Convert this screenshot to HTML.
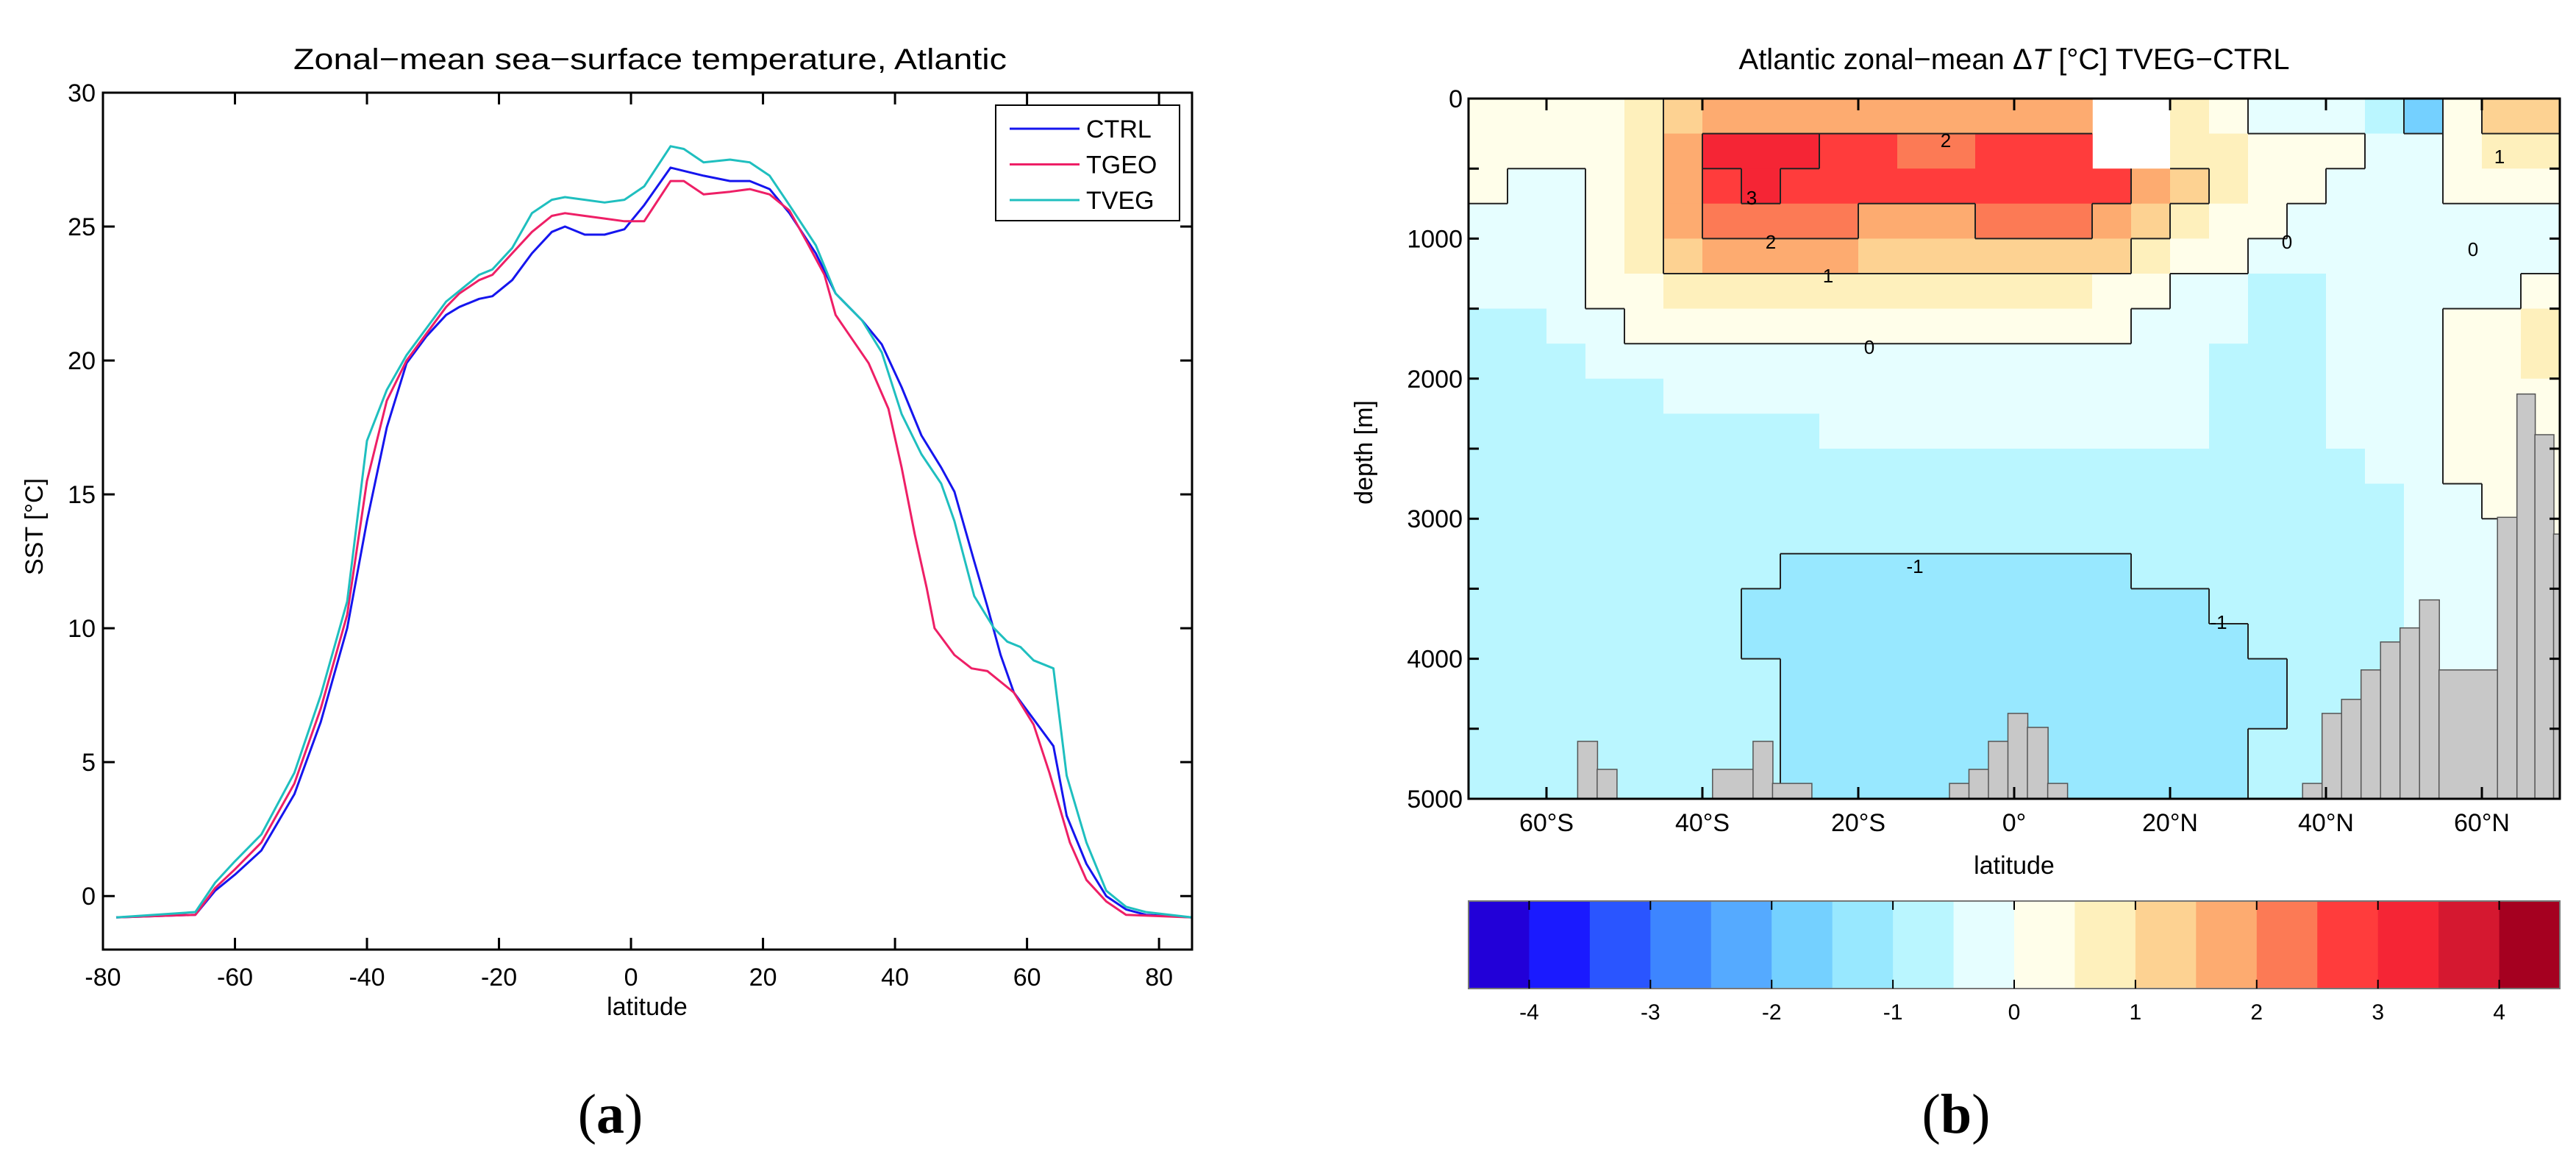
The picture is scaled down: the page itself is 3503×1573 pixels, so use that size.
<!DOCTYPE html>
<html><head><meta charset="utf-8"><style>
html,body{margin:0;padding:0;background:#fff;}
svg{display:block;font-family:"Liberation Sans",Arial,sans-serif;}
</style></head><body>
<svg id="fig" width="3503" height="1573" viewBox="0 0 3503 1573" xmlns="http://www.w3.org/2000/svg">
<rect x="0" y="0" width="3503" height="1573" fill="#fff"/>
<g id="panelA"></g>
<g id="panelB"></g>
</svg>
<script>
// ---------- Panel (a) data ----------
const ctrlLat = [-78,-66,-63,-60,-56,-51,-47,-43,-40,-37,-34,-31,-28,-26,-23,-21,-18,-15,-12,-10,-7,-4,-1,2,6,11,15,18,21,24,28,31,35,38,41,44,47,49,52,54,56,58,61,64,66,69,72,75,78,85];
const ctrlSST = [-0.8,-0.7,0.2,0.8,1.7,3.8,6.5,10,14,17.5,19.9,20.9,21.7,22.0,22.3,22.4,23.0,24.0,24.8,25.0,24.7,24.7,24.9,25.8,27.2,26.9,26.7,26.7,26.4,25.5,24.0,22.5,21.5,20.6,19.0,17.2,16.0,15.1,12.5,10.8,9.0,7.6,6.6,5.6,3.0,1.2,0.0,-0.5,-0.7,-0.8];
const tgeoLat = [-78,-66,-63,-60,-56,-51,-47,-43,-40,-37,-34,-31,-28,-26,-23,-21,-18,-15,-12,-10,-7,-4,-1,2,6,8,11,15,18,21,24,26.7,29.3,31,36,39,41,43,44.8,46,49,51.6,54,58,61,63.4,66.5,69,72,75,85];
const tgeoSST = [-0.8,-0.7,0.3,1.0,2.0,4.2,7.0,10.5,15.5,18.5,20.0,21.0,22.0,22.5,23.0,23.2,24.0,24.8,25.4,25.5,25.4,25.3,25.2,25.2,26.7,26.7,26.2,26.3,26.4,26.2,25.6,24.4,23.2,21.7,19.9,18.2,16.0,13.5,11.5,10.0,9.0,8.5,8.4,7.6,6.4,4.6,2.0,0.6,-0.2,-0.7,-0.8];
const tvegLat = [-78,-66,-63,-60,-56,-51,-47,-43,-40,-37,-34,-31,-28,-26,-23,-21,-18,-15,-12,-10,-7,-4,-1,2,6,8,11,15,18,21,24,28,31,35,38,41,44,47,49,52,55,57,59,61,64,66,69,72,75,78,85];
const tvegSST = [-0.8,-0.6,0.5,1.3,2.3,4.6,7.5,11,17.0,18.9,20.2,21.2,22.2,22.6,23.2,23.4,24.2,25.5,26.0,26.1,26.0,25.9,26.0,26.5,28.0,27.9,27.4,27.5,27.4,26.9,25.8,24.3,22.5,21.5,20.3,18.0,16.5,15.4,14.0,11.2,10.0,9.5,9.3,8.8,8.5,4.5,2.0,0.2,-0.4,-0.6,-0.8];
const aXTicks = [-80,-60,-40,-20,0,20,40,60,80];
const aYTicks = [0,5,10,15,20,25,30];
const seriesNames = ["CTRL","TGEO","TVEG"];

// ---------- Panel (b) data ----------
// columns: lat centers -67.5..67.5 step 5; each column = 20 depth rows (125..4875 step 250)
const colLats = [-67.5,-62.5,-57.5,-52.5,-47.5,-42.5,-37.5,-32.5,-27.5,-22.5,-17.5,-12.5,-7.5,-2.5,2.5,7.5,12.5,17.5,22.5,27.5,32.5,37.5,42.5,47.5,52.5,57.5,62.5,67.5];
const rowDepths = [125,375,625,875,1125,1375,1625,1875,2125,2375,2625,2875,3125,3375,3625,3875,4125,4375,4625,4875];
const dTcols = [
[0.2,0.2,0.2,-0.2,-0.2,-0.2,-0.7,-0.7,-0.7,-0.7,-0.7,-0.7,-0.7,-0.7,-0.7,-0.7,-0.7,-0.7,-0.7,-0.7],
[0.2,0.2,-0.2,-0.2,-0.2,-0.2,-0.7,-0.7,-0.7,-0.7,-0.7,-0.7,-0.7,-0.7,-0.7,-0.7,-0.7,-0.7,-0.7,-0.7],
[0.2,0.2,-0.2,-0.2,-0.2,-0.2,-0.2,-0.7,-0.7,-0.7,-0.7,-0.7,-0.7,-0.7,-0.7,-0.7,-0.7,-0.7,-0.7,-0.7],
[0.2,0.2,0.2,0.2,0.2,0.2,-0.2,-0.2,-0.7,-0.7,-0.7,-0.7,-0.7,-0.7,-0.7,-0.7,-0.7,-0.7,-0.7,-0.7],
[0.7,0.7,0.7,0.7,0.7,0.2,0.2,-0.2,-0.7,-0.7,-0.7,-0.7,-0.7,-0.7,-0.7,-0.7,-0.7,-0.7,-0.7,-0.7],
[1.2,1.7,1.7,1.7,1.2,0.7,0.2,-0.2,-0.2,-0.7,-0.7,-0.7,-0.7,-0.7,-0.7,-0.7,-0.7,-0.7,-0.7,-0.7],
[1.7,3.2,2.7,2.2,1.7,0.7,0.2,-0.2,-0.2,-0.7,-0.7,-0.7,-0.7,-0.7,-0.7,-0.7,-0.7,-0.7,-0.7,-0.7],
[1.7,3.2,3.2,2.2,1.7,0.7,0.2,-0.2,-0.2,-0.7,-0.7,-0.7,-0.7,-0.7,-1.2,-1.2,-0.7,-0.7,-0.7,-0.7],
[1.7,3.2,2.7,2.2,1.7,0.7,0.2,-0.2,-0.2,-0.7,-0.7,-0.7,-0.7,-1.2,-1.2,-1.2,-1.2,-1.2,-1.2,-1.2],
[1.7,2.7,2.7,2.2,1.7,0.7,0.2,-0.2,-0.2,-0.2,-0.7,-0.7,-0.7,-1.2,-1.2,-1.2,-1.2,-1.2,-1.2,-1.2],
[1.7,2.7,2.7,1.7,1.2,0.7,0.2,-0.2,-0.2,-0.2,-0.7,-0.7,-0.7,-1.2,-1.2,-1.2,-1.2,-1.2,-1.2,-1.2],
[1.7,2.2,2.7,1.7,1.2,0.7,0.2,-0.2,-0.2,-0.2,-0.7,-0.7,-0.7,-1.2,-1.2,-1.2,-1.2,-1.2,-1.2,-1.2],
[1.7,2.2,2.7,1.7,1.2,0.7,0.2,-0.2,-0.2,-0.2,-0.7,-0.7,-0.7,-1.2,-1.2,-1.2,-1.2,-1.2,-1.2,-1.2],
[1.7,2.7,2.7,2.2,1.2,0.7,0.2,-0.2,-0.2,-0.2,-0.7,-0.7,-0.7,-1.2,-1.2,-1.2,-1.2,-1.2,-1.2,-1.2],
[1.7,2.7,2.7,2.2,1.2,0.7,0.2,-0.2,-0.2,-0.2,-0.7,-0.7,-0.7,-1.2,-1.2,-1.2,-1.2,-1.2,-1.2,-1.2],
[1.7,2.7,2.7,2.2,1.2,0.7,0.2,-0.2,-0.2,-0.2,-0.7,-0.7,-0.7,-1.2,-1.2,-1.2,-1.2,-1.2,-1.2,-1.2],
[null,null,2.7,1.7,1.2,0.2,0.2,-0.2,-0.2,-0.2,-0.7,-0.7,-0.7,-1.2,-1.2,-1.2,-1.2,-1.2,-1.2,-1.2],
[null,null,1.7,1.2,0.7,0.2,-0.2,-0.2,-0.2,-0.2,-0.7,-0.7,-0.7,-0.7,-1.2,-1.2,-1.2,-1.2,-1.2,-1.2],
[0.7,0.7,1.2,0.7,0.2,-0.2,-0.2,-0.2,-0.2,-0.2,-0.7,-0.7,-0.7,-0.7,-1.2,-1.2,-1.2,-1.2,-1.2,-1.2],
[0.2,0.7,0.7,0.2,0.2,-0.2,-0.2,-0.7,-0.7,-0.7,-0.7,-0.7,-0.7,-0.7,-0.7,-1.2,-1.2,-1.2,-1.2,-1.2],
[-0.2,0.2,0.2,0.2,-0.2,-0.7,-0.7,-0.7,-0.7,-0.7,-0.7,-0.7,-0.7,-0.7,-0.7,-0.7,-1.2,-1.2,-0.7,-0.7],
[-0.2,0.2,0.2,-0.2,-0.2,-0.7,-0.7,-0.7,-0.7,-0.7,-0.7,-0.7,-0.7,-0.7,-0.7,-0.7,-0.7,-0.7,-0.7,-0.7],
[-0.2,0.2,-0.2,-0.2,-0.2,-0.2,-0.2,-0.2,-0.2,-0.2,-0.7,-0.7,-0.7,-0.7,-0.7,-0.7,-0.7,-0.7,-0.7,-0.7],
[-0.7,-0.2,-0.2,-0.2,-0.2,-0.2,-0.2,-0.2,-0.2,-0.2,-0.2,-0.7,-0.7,-0.7,-0.7,-0.7,-0.7,-0.7,-0.7,-0.7],
[-1.7,-0.2,-0.2,-0.2,-0.2,-0.2,-0.2,-0.2,-0.2,-0.2,-0.2,-0.2,-0.2,-0.2,-0.2,-0.2,-0.2,-0.2,-0.2,-0.2],
[0.2,0.2,0.2,-0.2,-0.2,-0.2,0.2,0.2,0.2,0.2,0.2,-0.2,-0.2,-0.2,-0.2,-0.2,-0.2,-0.2,-0.2,-0.2],
[1.2,0.7,0.2,-0.2,-0.2,-0.2,0.2,0.2,0.2,0.2,0.2,0.2,-0.2,-0.2,-0.2,-0.2,-0.2,-0.2,-0.2,-0.2],
[1.2,0.7,0.2,-0.2,-0.2,0.2,0.7,0.7,0.2,0.2,0.2,0.2,0.2,0.2,0.2,0.2,0.2,0.2,0.2,0.2]
];
const bathLat0 = [-56,-53.5,-38.7,-33.5,-31,-8.3,-5.8,-3.3,-0.8,1.7,4.3,37,39.5,42,44.5,47,49.5,52,54.5,62,64.5,66.8,69.2];
const bathLat1 = [-53.5,-51,-33.5,-31,-26,-5.8,-3.3,-0.8,1.7,4.3,6.8,39.5,42,44.5,47,49.5,52,54.5,62,64.5,66.8,69.2,70];
const bathDepth = [4590,4790,4790,4590,4890,4890,4790,4590,4390,4490,4890,4890,4390,4290,4080,3880,3780,3580,4080,2990,2110,2400,3110];
const contourLevels = [-1,0,1,2,3];
const bXTicks = [-60,-40,-20,0,20,40,60];
const bXTickLabels = ["60°S","40°S","20°S","0°","20°N","40°N","60°N"];
const bYTicks = [0,1000,2000,3000,4000,5000];
const cbarTicks = [-4,-3,-2,-1,0,1,2,3,4];
const cmap = ["#2200d8","#1a1aff","#2a55ff","#3d85ff","#55aaff","#74d0ff","#98e8ff","#baf6ff","#e6feff","#fffeea","#fef0bc","#fdd292","#fdab70","#fc7a55","#ff3c3c","#f52535","#d51830","#a50020"];
const cbarEdges = [-4.5,-4,-3.5,-3,-2.5,-2,-1.5,-1,-0.5,0,0.5,1,1.5,2,2.5,3,3.5,4,4.5];

const NS = "http://www.w3.org/2000/svg";
function mk(tag, attrs, parent, text){
  const e = document.createElementNS(NS, tag);
  for (const k in attrs) e.setAttribute(k, attrs[k]);
  if (text !== undefined) e.textContent = text;
  parent.appendChild(e);
  return e;
}

// ================= Panel (a) =================
const A = document.getElementById('panelA');
const ax = {x0:140, x1:1621, y0:126, y1:1291, xmin:-80, xmax:85, ymin:-2, ymax:30};
const xA = v => ax.x0 + (v - ax.xmin) / (ax.xmax - ax.xmin) * (ax.x1 - ax.x0);
const yA = v => ax.y1 - (v - ax.ymin) / (ax.ymax - ax.ymin) * (ax.y1 - ax.y0);

let t = mk('text', {x:884, y:94, 'font-size':40, 'text-anchor':'middle', textLength:970, lengthAdjust:'spacingAndGlyphs'}, A, 'Zonal\u2212mean sea\u2212surface temperature, Atlantic');



const series = [[ctrlLat, ctrlSST, '#1515ee'], [tgeoLat, tgeoSST, '#ee1f66'], [tvegLat, tvegSST, '#1fbfbf']];
series.forEach((s, si) => {
  const pts = s[0].map((la, i) => xA(la).toFixed(1) + ',' + yA(s[1][i]).toFixed(1)).join(' ');
  const pl = mk('polyline', {points: pts, fill: 'none', stroke: s[2], 'stroke-width': 3, 'stroke-linejoin': 'round'}, A);
  
  
});

let fr = mk('rect', {x:ax.x0, y:ax.y0, width:ax.x1-ax.x0, height:ax.y1-ax.y0, fill:'none', stroke:'#000', 'stroke-width':3}, A);



aXTicks.forEach(v => {
  const x = xA(v);
  if (v > ax.xmin) {
    const tk = mk('path', {d:`M${x},${ax.y1}v-16M${x},${ax.y0}v16`, stroke:'#000', 'stroke-width':3}, A);
    
    
  }
  const lb = mk('text', {x:x, y:1340, 'font-size':34, 'text-anchor':'middle'}, A, String(v));
  
  
});
aYTicks.forEach(v => {
  const y = yA(v);
  const tk = mk('path', {d:`M${ax.x0},${y}h16M${ax.x1},${y}h-16`, stroke:'#000', 'stroke-width':3}, A);
  
  
  const lb = mk('text', {x:ax.x0-10, y:y+12, 'font-size':34, 'text-anchor':'end'}, A, String(v));
  
  
});
t = mk('text', {x:880, y:1380, 'font-size':34, 'text-anchor':'middle'}, A, 'latitude');


t = mk('text', {x:0, y:0, 'font-size':34, 'text-anchor':'middle', transform:'translate(58,716) rotate(-90)'}, A, 'SST [°C]');



// legend
const lg = mk('g', {}, A);


mk('rect', {x:1354, y:143, width:250, height:157, fill:'#fff', stroke:'#000', 'stroke-width':2}, lg);
series.forEach((s, si) => {
  const ly = 175 + si * 48.5;
  const le = mk('g', {}, lg);
  
  
  mk('line', {x1:1373, x2:1468, y1:ly, y2:ly, stroke:s[2], 'stroke-width':3}, le);
  mk('text', {x:1477, y:ly+12, 'font-size':34}, le, seriesNames[si]);
});

t = mk('text', {x:830, y:1540, 'font-size':76, 'text-anchor':'middle', 'font-family':'Liberation Serif, serif'}, A);


mk('tspan', {}, t, '(');
mk('tspan', {'font-weight':'bold'}, t, 'a');
mk('tspan', {}, t, ')');

// ================= Panel (b) =================
const B = document.getElementById('panelB');
const bx = {x0:1997, x1:3481, y0:134, y1:1086, lmin:-70, lmax:70, dmax:5000};
const xB = la => bx.x0 + (la - bx.lmin) / (bx.lmax - bx.lmin) * (bx.x1 - bx.x0);
const yB = d => bx.y0 + d / bx.dmax * (bx.y1 - bx.y0);
const colorFor = v => cmap[Math.max(0, Math.min(17, Math.floor((v + 4.5) / 0.5)))];

t = mk('text', {x:2739, y:94, 'font-size':40, 'text-anchor':'middle'}, B);


mk('tspan', {}, t, 'Atlantic zonal\u2212mean \u0394');
mk('tspan', {'font-style':'italic'}, t, 'T');
mk('tspan', {}, t, ' [°C] TVEG\u2212CTRL');

const cells = mk('g', {}, B);


const hl = 2.5, hd = 125;
colLats.forEach((la, i) => {
  rowDepths.forEach((d, j) => {
    const v = dTcols[i][j];
    if (v === null) return;
    const x0 = xB(la - hl), x1 = xB(la + hl), y0 = yB(d - hd), y1 = yB(d + hd);
    const r = mk('rect', {x:x0.toFixed(1), y:y0.toFixed(1), width:(x1-x0+0.8).toFixed(1), height:(y1-y0+0.8).toFixed(1), fill:colorFor(v)}, cells);
    
    
  });
});

// contour lines along cell edges
const cl = mk('g', {stroke:'#222', 'stroke-width':2, fill:'none'}, B);


let dpath = '';
contourLevels.forEach(L => {
  for (let i = 0; i < colLats.length; i++) {
    for (let j = 0; j < rowDepths.length; j++) {
      const a = dTcols[i][j];
      if (a === null) continue;
      if (i + 1 < colLats.length) {
        const b = dTcols[i+1][j];
        if (b !== null && (a - L) * (b - L) < 0) {
          const x = xB(colLats[i] + hl);
          dpath += `M${x.toFixed(1)},${yB(rowDepths[j]-hd).toFixed(1)}V${yB(rowDepths[j]+hd).toFixed(1)}`;
        }
      }
      if (j + 1 < rowDepths.length) {
        const b = dTcols[i][j+1];
        if (b !== null && (a - L) * (b - L) < 0) {
          const y = yB(rowDepths[j] + hd);
          dpath += `M${xB(colLats[i]-hl).toFixed(1)},${y.toFixed(1)}H${xB(colLats[i]+hl).toFixed(1)}`;
        }
      }
    }
  }
});
mk('path', {d:dpath}, cl);

// bathymetry
const bg = mk('g', {}, B);


bathDepth.forEach((d, k) => {
  const x0 = xB(bathLat0[k]), x1 = xB(bathLat1[k]), y0 = yB(d);
  const r = mk('rect', {x:x0.toFixed(1), y:y0.toFixed(1), width:(x1-x0+0.5).toFixed(1), height:(bx.y1-y0).toFixed(1), fill:'#c8c8c8', stroke:'#555', 'stroke-width':1.5}, bg);
  
  
});

// contour labels
const cLabels = [['3',2382,278],['2',2408,338],['2',2646,200],['1',2486,384],['0',2542,481],['0',3110,338],['0',3363,348],['1',3399,222],['-1',2604,779],['-1',3017,855]];
cLabels.forEach(c => {
  const e = mk('text', {x:c[1], y:c[2], 'font-size':26, 'text-anchor':'middle'}, B, c[0]);
  
  
});

fr = mk('rect', {x:bx.x0, y:bx.y0, width:bx.x1-bx.x0, height:bx.y1-bx.y0, fill:'none', stroke:'#000', 'stroke-width':3}, B);



bXTicks.forEach((v, k) => {
  const x = xB(v);
  const tk = mk('path', {d:`M${x},${bx.y1}v-16M${x},${bx.y0}v16`, stroke:'#000', 'stroke-width':3}, B);
  
  
  const lb = mk('text', {x:x, y:1130, 'font-size':34, 'text-anchor':'middle'}, B, bXTickLabels[k]);
  
  
});
for (let d = 500; d < 5000; d += 500) {
  const y = yB(d);
  const tk = mk('path', {d:`M${bx.x0},${y}h14M${bx.x1},${y}h-14`, stroke:'#000', 'stroke-width':3}, B);
  
  
}
bYTicks.forEach(v => {
  const lb = mk('text', {x:bx.x0-8, y:yB(v)+12, 'font-size':34, 'text-anchor':'end'}, B, String(v));
  
  
});
t = mk('text', {x:2739, y:1188, 'font-size':34, 'text-anchor':'middle'}, B, 'latitude');


t = mk('text', {x:0, y:0, 'font-size':34, 'text-anchor':'middle', transform:'translate(1866,615) rotate(-90)'}, B, 'depth [m]');



// colorbar
const cb = mk('g', {}, B);


const cbx = v => bx.x0 + (v + 4.5) / 9 * (bx.x1 - bx.x0);
const cbY0 = 1225, cbY1 = 1344;
cmap.forEach((c, k) => {
  const x0 = cbx(cbarEdges[k]), x1 = cbx(cbarEdges[k+1]);
  const r = mk('rect', {x:x0.toFixed(1), y:cbY0, width:(x1-x0+0.6).toFixed(1), height:cbY1-cbY0, fill:c}, cb);
  
  
});
mk('rect', {x:bx.x0, y:cbY0, width:bx.x1-bx.x0, height:cbY1-cbY0, fill:'none', stroke:'#777', 'stroke-width':2}, cb);
cbarTicks.forEach(v => {
  const x = cbx(v);
  mk('path', {d:`M${x},${cbY0}v12M${x},${cbY1}v-12`, stroke:'#000', 'stroke-width':2}, cb);
  const lb = mk('text', {x:x, y:1386, 'font-size':30, 'text-anchor':'middle'}, cb, String(v));
  
  
});

t = mk('text', {x:2660, y:1540, 'font-size':76, 'text-anchor':'middle', 'font-family':'Liberation Serif, serif'}, B);


mk('tspan', {}, t, '(');
mk('tspan', {'font-weight':'bold'}, t, 'b');
mk('tspan', {}, t, ')');
</script>
</body></html>
